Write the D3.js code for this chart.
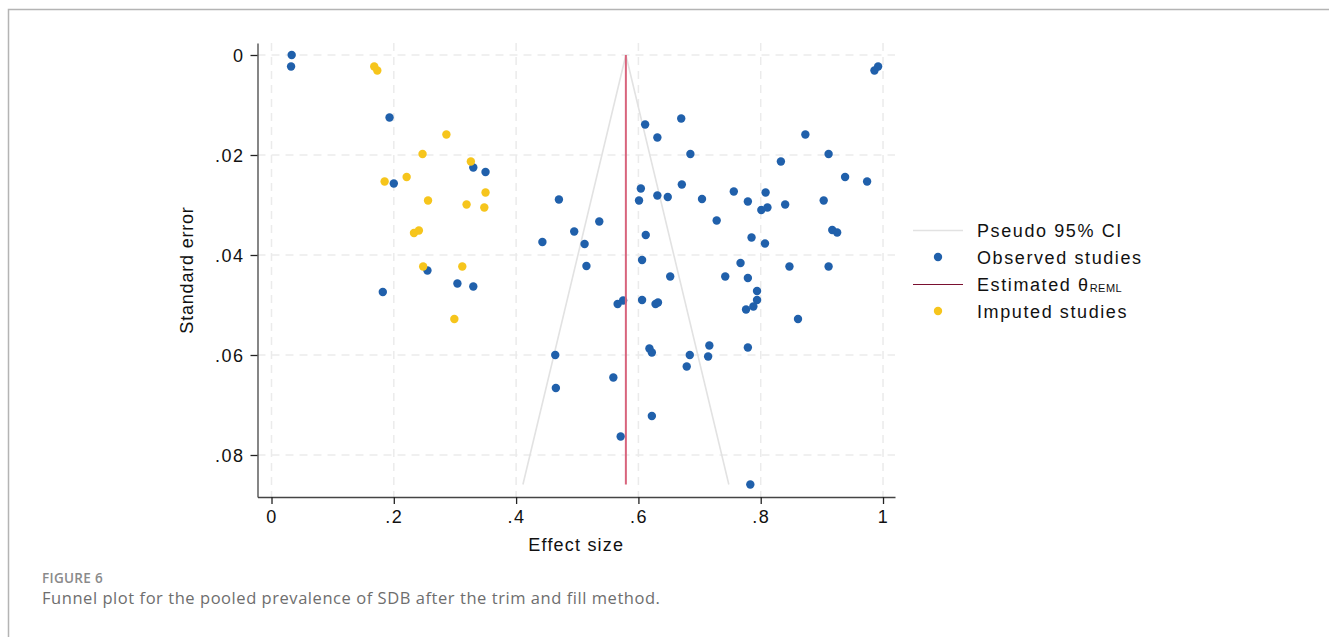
<!DOCTYPE html>
<html>
<head>
<meta charset="utf-8">
<script src="https://cdn.jsdelivr.net/npm/d3@7"></script>
<style>
  body { margin: 0; background: #fff; }
  svg { display: block; }
</style>
</head>
<body>
<svg width="1329" height="637"></svg>
<script>
// observed studies: effect size / standard error
const obsEffect = [0.033, 0.032, 0.193, 0.330, 0.350, 0.200, 0.255, 0.304, 0.330, 0.182,
  0.992, 0.986, 0.670, 0.611, 0.631, 0.873, 0.685, 0.911, 0.833, 0.938,
  0.974, 0.604, 0.671, 0.470, 0.601, 0.631, 0.648, 0.704, 0.756, 0.779,
  0.808, 0.801, 0.811, 0.840, 0.903, 0.536, 0.728, 0.495, 0.917, 0.925,
  0.443, 0.512, 0.612, 0.785, 0.807, 0.515, 0.606, 0.767, 0.847, 0.911,
  0.652, 0.742, 0.779, 0.794, 0.794, 0.788, 0.776, 0.861, 0.566, 0.575,
  0.606, 0.628, 0.632, 0.464, 0.465, 0.559, 0.618, 0.622, 0.684, 0.716,
  0.714, 0.679, 0.779, 0.622, 0.571, 0.783];
const obsSE = [0.0000, 0.0023, 0.0125, 0.0225, 0.0234, 0.0257, 0.0431, 0.0457, 0.0463, 0.0474,
  0.0023, 0.0031, 0.0127, 0.0139, 0.0165, 0.0159, 0.0198, 0.0198, 0.0213, 0.0244,
  0.0253, 0.0267, 0.0259, 0.0289, 0.0291, 0.0281, 0.0284, 0.0288, 0.0273, 0.0293,
  0.0275, 0.0310, 0.0305, 0.0299, 0.0291, 0.0333, 0.0331, 0.0353, 0.0350, 0.0355,
  0.0374, 0.0378, 0.0360, 0.0365, 0.0377, 0.0422, 0.0410, 0.0416, 0.0423, 0.0423,
  0.0443, 0.0443, 0.0446, 0.0472, 0.0490, 0.0503, 0.0509, 0.0528, 0.0498, 0.0491,
  0.0490, 0.0498, 0.0495, 0.0600, 0.0666, 0.0645, 0.0587, 0.0595, 0.0600, 0.0581,
  0.0603, 0.0623, 0.0585, 0.0722, 0.0763, 0.0859];

// imputed studies (trim and fill)
const impEffect = [0.168, 0.173, 0.286, 0.247, 0.326, 0.185, 0.221, 0.350,
  0.256, 0.319, 0.348, 0.241, 0.233, 0.248, 0.312, 0.299];
const impSE = [0.0023, 0.0031, 0.0159, 0.0198, 0.0213, 0.0253, 0.0244, 0.0275,
  0.0291, 0.0299, 0.0305, 0.0351, 0.0356, 0.0423, 0.0423, 0.0528];

const theta = 0.5795;
const xTicks = [0, 0.2, 0.4, 0.6, 0.8, 1];
const yTicks = [0, 0.02, 0.04, 0.06, 0.08];
const legendLabels = ['Pseudo 95% CI', 'Observed studies', 'Estimated θ', 'Imputed studies'];

const svg = d3.select('svg');

// figure frame
svg.append('path')
  .attr('d', 'M8.5,637V9.5H1329')
  .attr('fill', 'none')
  .attr('stroke', '#b4b4b4')
  .attr('stroke-width', 1.5);

const xScale = d3.scaleLinear().domain([-0.0229, 1.0196]).range([257.5, 895]);
const yScale = d3.scaleLinear().domain([-0.0024, 0.0884]).range([43, 497]);

const fmt = d => d === 0 ? '0' : d3.format('~g')(d).replace(/^0\./, '.');

// grid
const grid = svg.append('g')
  .attr('stroke', '#ebebeb')
  .attr('stroke-width', 1.5)
  .attr('stroke-dasharray', '8,6');
grid.selectAll('.hg').data(yTicks).enter().append('line')
  .attr('x1', xScale.range()[0]).attr('x2', xScale.range()[1])
  .attr('y1', d => yScale(d)).attr('y2', d => yScale(d));
grid.selectAll('.vg').data(xTicks).enter().append('line')
  .attr('x1', d => xScale(d)).attr('x2', d => xScale(d))
  .attr('y1', yScale.range()[0]).attr('y2', yScale.range()[1]);

// axes
const xAxis = svg.append('g')
  .attr('transform', `translate(0, ${yScale.range()[1]})`)
  .call(d3.axisBottom(xScale).tickValues(xTicks).tickFormat(fmt).tickSizeOuter(0).tickSizeInner(7).tickPadding(6));
const yAxis = svg.append('g')
  .attr('transform', `translate(${xScale.range()[0]}, 0)`)
  .call(d3.axisLeft(yScale).tickValues(yTicks).tickFormat(fmt).tickSizeOuter(0).tickSizeInner(7).tickPadding(6));

[xAxis, yAxis].forEach(a => {
  a.select('.domain').attr('stroke', '#444').attr('stroke-width', 1.3);
  a.selectAll('.tick line').attr('stroke', '#222').attr('stroke-width', 1.3);
  a.selectAll('.tick text')
    .attr('font-family', '"Liberation Sans", Arial, sans-serif')
    .attr('font-size', 18)
    .attr('letter-spacing', 1.5)
    .attr('fill', '#111');
});
yAxis.selectAll('.tick text').attr('dy', '0.36em');

// axis titles
svg.append('text')
  .attr('x', (xScale.range()[0] + xScale.range()[1]) / 2)
  .attr('y', 551)
  .attr('text-anchor', 'middle')
  .attr('font-family', '"Liberation Sans", Arial, sans-serif')
  .attr('font-size', 18)
  .attr('letter-spacing', 1.2)
  .attr('fill', '#111')
  .text('Effect size');
svg.append('text')
  .attr('transform', `translate(193, ${(yScale.range()[0] + yScale.range()[1]) / 2}) rotate(-90)`)
  .attr('text-anchor', 'middle')
  .attr('font-family', '"Liberation Sans", Arial, sans-serif')
  .attr('font-size', 18)
  .attr('letter-spacing', 0.8)
  .attr('fill', '#111')
  .text('Standard error');

// pseudo 95% CI funnel
const maxSE = d3.max(obsSE);
const funnel = [[theta - 1.96 * maxSE, maxSE], [theta, 0], [theta + 1.96 * maxSE, maxSE]];
svg.append('path')
  .datum(funnel)
  .attr('d', d3.line().x(d => xScale(d[0])).y(d => yScale(d[1])))
  .attr('fill', 'none')
  .attr('stroke', '#e2e2e2')
  .attr('stroke-width', 1.6);

const blue = '#2060ab';
const yellow = '#f6c51c';

// observed
svg.append('g').selectAll('circle').data(obsEffect).enter().append('circle')
  .attr('cx', d => xScale(d))
  .attr('cy', (d, i) => yScale(obsSE[i]))
  .attr('r', 4.2)
  .attr('fill', blue);

// estimated theta
svg.append('line')
  .attr('x1', xScale(theta)).attr('x2', xScale(theta))
  .attr('y1', yScale(0)).attr('y2', yScale(maxSE))
  .attr('stroke', '#d8647d')
  .attr('stroke-width', 2);

// imputed
svg.append('g').selectAll('circle').data(impEffect).enter().append('circle')
  .attr('cx', d => xScale(d))
  .attr('cy', (d, i) => yScale(impSE[i]))
  .attr('r', 4.2)
  .attr('fill', yellow);

// legend
const legend = svg.append('g').attr('transform', 'translate(913, 230)');
const rowH = 27;
legend.append('line').attr('x1', 0).attr('x2', 50).attr('y1', 0.5).attr('y2', 0.5)
  .attr('stroke', '#e2e2e2').attr('stroke-width', 1.5);
legend.append('circle').attr('cx', 25).attr('cy', rowH).attr('r', 4.2).attr('fill', blue);
legend.append('line').attr('x1', 0).attr('x2', 50).attr('y1', rowH * 2 + 0.5).attr('y2', rowH * 2 + 0.5)
  .attr('stroke', '#7a1030').attr('stroke-width', 1);
legend.append('circle').attr('cx', 25).attr('cy', rowH * 3).attr('r', 4.2).attr('fill', yellow);

const lt = legend.selectAll('text.lab').data(legendLabels).enter().append('text')
  .attr('class', 'lab')
  .attr('x', 64)
  .attr('y', (d, i) => i * rowH + 6.5)
  .attr('font-family', '"Liberation Sans", Arial, sans-serif')
  .attr('font-size', 18)
  .attr('letter-spacing', 1.6)
  .attr('fill', '#111')
  .text(d => d);
lt.filter((d, i) => i === 2).append('tspan')
  .attr('font-size', 11)
  .attr('letter-spacing', 0.5)
  .attr('dy', 1)
  .text('REML');

// caption
svg.append('text')
  .attr('x', 42).attr('y', 583)
  .attr('font-family', '"Open Sans", sans-serif')
  .attr('font-size', 13.5)
  .attr('font-weight', 600)
  .attr('letter-spacing', 0.3)
  .attr('fill', '#8a8a8a')
  .text('FIGURE 6');
svg.append('text')
  .attr('x', 42).attr('y', 604)
  .attr('font-family', '"Open Sans", sans-serif')
  .attr('font-size', 16.5)
  .attr('letter-spacing', 0.55)
  .attr('fill', '#6e6e6e')
  .text('Funnel plot for the pooled prevalence of SDB after the trim and fill method.');
</script>
</body>
</html>
